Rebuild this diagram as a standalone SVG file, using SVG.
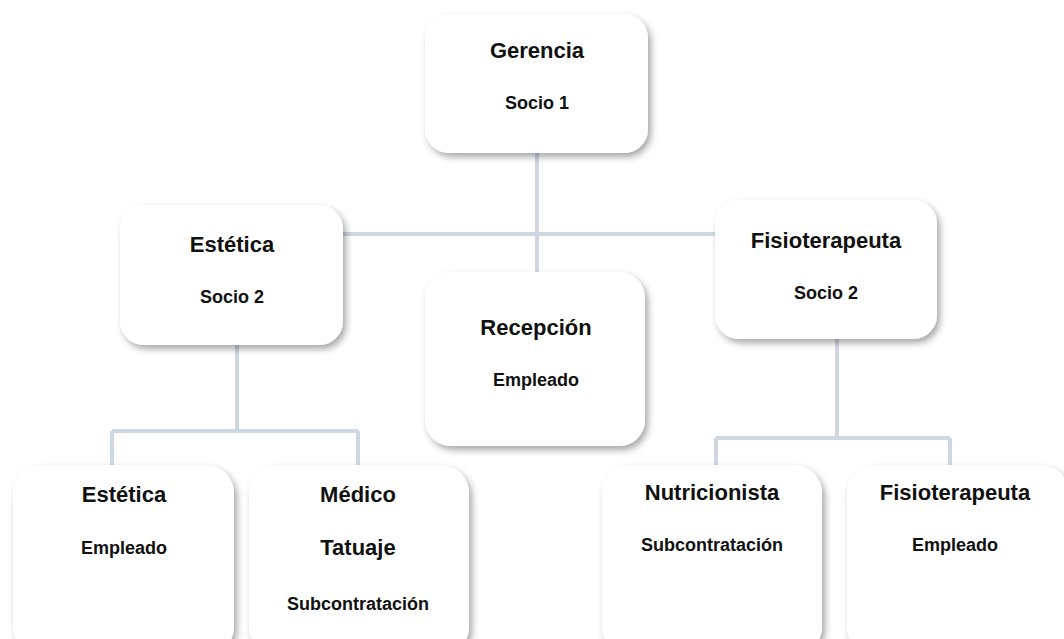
<svg xmlns="http://www.w3.org/2000/svg" width="1064" height="639" viewBox="0 0 1064 639">
<defs>
<filter id="sh" x="-20%" y="-20%" width="140%" height="140%">
<feDropShadow dx="3" dy="4" stdDeviation="3.5" flood-color="#000" flood-opacity="0.35"/>
</filter>
<style>
.box{fill:#fff;filter:url(#sh)}
.t{font-family:"Liberation Sans",Arial,sans-serif;font-weight:bold;font-size:22px;fill:#111;text-anchor:middle}
.s{font-family:"Liberation Sans",Arial,sans-serif;font-weight:bold;font-size:18px;fill:#111;text-anchor:middle}
.c{fill:none;stroke:#cfd7e2;stroke-width:4}
</style>
</defs>
<rect width="1064" height="639" fill="#fff"/>
<g id="connectors">
<path class="c" d="M537 150 V272"/>
<path class="c" d="M340 234 H718"/>
<path class="c" d="M237 342 V431 M112 431 H358 M112 431 V468 M358 431 V468"/>
<path class="c" d="M837 336 V438 M716 438 H950 M716 438 V468 M950 438 V468"/>
</g>
<g id="gerencia">
<rect class="box" x="425" y="14" width="223" height="139" rx="24"/>
<text class="t" x="537" y="58">Gerencia</text>
<text class="s" x="537" y="109">Socio 1</text>
</g>
<g id="estetica-socio">
<rect class="box" x="120" y="205" width="223" height="140" rx="24"/>
<text class="t" x="232" y="252">Estética</text>
<text class="s" x="232" y="303">Socio 2</text>
</g>
<g id="recepcion">
<rect class="box" x="425" y="272" width="220" height="174" rx="26"/>
<text class="t" x="536" y="335">Recepción</text>
<text class="s" x="536" y="386">Empleado</text>
</g>
<g id="fisio-socio">
<rect class="box" x="715" y="200" width="222" height="139" rx="24"/>
<text class="t" x="826" y="248">Fisioterapeuta</text>
<text class="s" x="826" y="299">Socio 2</text>
</g>
<g id="estetica-empleado">
<rect class="box" x="13" y="465" width="221" height="190" rx="28"/>
<text class="t" x="124" y="502">Estética</text>
<text class="s" x="124" y="554">Empleado</text>
</g>
<g id="medico">
<rect class="box" x="249" y="465" width="220" height="190" rx="28"/>
<text class="t" x="358" y="502">Médico</text>
<text class="t" x="358" y="555">Tatuaje</text>
<text class="s" x="358" y="610">Subcontratación</text>
</g>
<g id="nutricionista">
<rect class="box" x="602" y="465" width="220" height="190" rx="28"/>
<text class="t" x="712" y="500">Nutricionista</text>
<text class="s" x="712" y="551">Subcontratación</text>
</g>
<g id="fisio-empleado">
<rect class="box" x="847" y="465" width="222" height="190" rx="28"/>
<text class="t" x="955" y="500">Fisioterapeuta</text>
<text class="s" x="955" y="551">Empleado</text>
</g>
</svg>
